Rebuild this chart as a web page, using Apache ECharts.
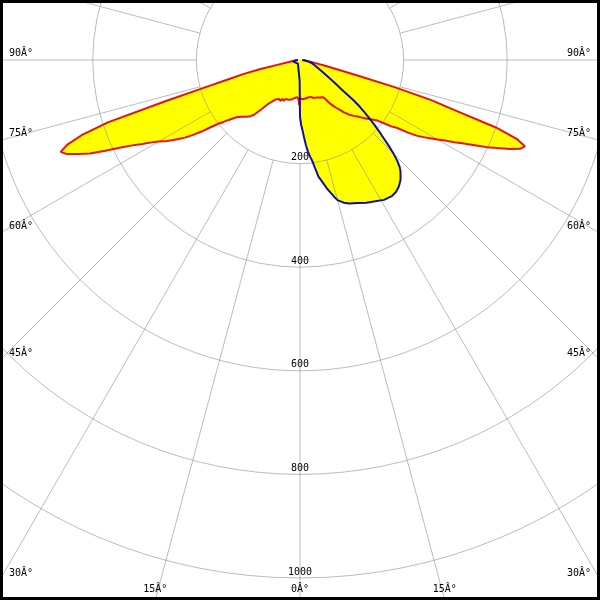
<!DOCTYPE html>
<html>
<head>
<meta charset="utf-8">
<script src="https://cdn.jsdelivr.net/npm/echarts@6/dist/echarts.min.js"></script>
<style>
html,body{margin:0;padding:0;background:#fff;}
#chart{width:600px;height:600px;}
</style>
</head>
<body>
<div id="chart"></div>
<script>
// C0-C180 plane (red), angle in degrees from nadir (negative = left side)
const redAngles = [-90,-85,-80,-78,-77,-76,-75,-74,-73,-72,-71,-70,-69,-68,-67,-66,-65,-64,-63,-62,-61,-60,-59,-58,-57,-56,-55,-54,-53,-52,-51,-50,-48,-46,-44,-42,-40,-38,-36,-34,-32,-30,-28,-26,-24,-22,-20,-18,-16,-14,-12,-10,-8,-6,-4,-2,-1,0,2,4,6,8,10,12,14,16,18,20,22,24,26,28,30,32,33,34,35,36,38,40,42,44,46,48,50,52,53,54,55,56,57,58,59,60,61,62,63,64,65,66,67,68,69,70,71,72,73,74,75,76,77,78,80,85,90];
const redValues = [4,10,22,45,80,115,140,185,272,390,446,478,495,485,465,444,415,385,363,345,328,315,305,292,280,268,252,235,215,200,190,180,165,158,152,147,138,120,105,97,90,88,85,88,82,85,80,83,80,82,78,80,74,76,72,77,87,74,71,76,73,75,72,74,72,74,76,78,80,79,80,82,83,85,90,97,104,110,120,132,142,150,158,168,178,190,203,218,228,250,268,281,293,307,321,338,355,375,398,418,440,458,465,445,400,315,265,190,110,70,50,38,22,10,4];
// C90-C270 plane (blue)
const blueAngles = [-90,-85,-80,-75,-60,-45,-30,-15,-5,-2,-1,0,1,2,3,4,5,6,7,8,9,10,12,14,15,17,19,22,25,28,31,34,36,38,40,42,43,44,45,46,47,48,49,50,51,52,53,54,55,56,58,60,62,65,70,75,80,85,90];
const blueValues = [4,8,14,12,10,8,8,8,8,10,40,110,125,135,150,165,178,188,197,212,228,236,255,272,280,288,293,298,304,309,315,317,315,310,302,290,282,270,255,238,220,205,190,175,160,146,130,110,95,86,70,58,50,40,30,24,16,10,5];
// tick labels
const radiusTicks = [200, 400, 600, 800, 1000, 1200];
const angleTicks = [-90,-75,-60,-45,-30,-15,0,15,30,45,60,75,90];

const redData = redAngles.map((a, i) => [redValues[i], a]);
const blueData = blueAngles.map((a, i) => [blueValues[i], a]);

const FONT = 'DejaVu Sans Mono';
const gridColor = 'rgba(140,140,140,0.58)';
const CX = 300, CY = 60, RMAX = 621.6, R0 = 103.6;

const chart = echarts.init(document.getElementById('chart'), null, {renderer: 'canvas'});
chart.setOption({
  animation: false,
  backgroundColor: '#ffffff',
  polar: [
    {center: [CX, CY], radius: RMAX},
    {center: [CX, CY], radius: [R0, RMAX]}
  ],
  angleAxis: [
    {polarIndex: 0, type: 'value', min: -180, max: 180, startAngle: 90, clockwise: false, show: false},
    {polarIndex: 1, type: 'value', min: 0, max: 360, interval: 15, startAngle: 270, z: 2,
     axisLine: {show: false}, axisTick: {show: false}, axisLabel: {show: false},
     splitLine: {show: true, lineStyle: {color: gridColor, width: 1}}}
  ],
  radiusAxis: [
    {polarIndex: 0, type: 'value', min: 0, max: 1200, show: false},
    {polarIndex: 1, type: 'value', min: radiusTicks[0], max: radiusTicks[radiusTicks.length - 1], interval: 200, z: 2,
     axisLine: {show: false}, axisTick: {show: false},
     axisLabel: {show: true, margin: 0, align: 'center', verticalAlign: 'bottom', color: '#000',
                 fontFamily: FONT, fontSize: 10, padding: [0, 0, 1, 0],
                 formatter: v => String(v)},
     splitLine: {show: true, lineStyle: {color: gridColor, width: 1}}}
  ],
  series: [
    {type: 'line', coordinateSystem: 'polar', polarIndex: 0, data: redData, symbol: 'none', silent: true,
     lineStyle: {opacity: 0}, areaStyle: {color: '#ffff00', opacity: 1}, z: 1},
    {type: 'line', coordinateSystem: 'polar', polarIndex: 0, data: blueData, symbol: 'none', silent: true,
     lineStyle: {opacity: 0}, areaStyle: {color: '#ffff00', opacity: 1}, z: 1},
    {type: 'line', coordinateSystem: 'polar', polarIndex: 0, data: redData, symbol: 'none', silent: true,
     lineStyle: {color: '#e41414', width: 2}, z: 3},
    {type: 'line', coordinateSystem: 'polar', polarIndex: 0, data: blueData, symbol: 'none', silent: true,
     lineStyle: {color: '#10109c', width: 2}, z: 4}
  ],
  graphic: [
    {id: 'frame', type: 'rect', z: 100, silent: true,
     shape: {x: 1.5, y: 1.5, width: 597, height: 597},
     style: {fill: null, stroke: '#000', lineWidth: 3}}
  ]
});

// angle labels where each spoke leaves the picture
const W = chart.getWidth(), H = chart.getHeight();
const c = chart.convertToPixel({seriesIndex: 0}, [0, 0]) || [CX, CY];
const els = [];
angleTicks.forEach(a => {
  const p = chart.convertToPixel({seriesIndex: 0}, [1000, a]);
  const dx = p[0] - c[0], dy = p[1] - c[1];
  const len = Math.hypot(dx, dy);
  const ux = dx / len, uy = dy / len;
  let tx = Infinity, ty = Infinity;
  if (ux < -1e-9) tx = (0 - c[0]) / ux;
  else if (ux > 1e-9) tx = (W - c[0]) / ux;
  if (uy > 1e-9) ty = (H - c[1]) / uy;
  const t = Math.min(tx, ty);
  const ex = c[0] + ux * t, ey = c[1] + uy * t;
  const txt = Math.abs(a) + 'Â°';
  let style;
  if (ty <= tx) {
    style = {x: ex, y: H - 6, align: 'center', verticalAlign: 'bottom'};
  } else if (ux < 0) {
    style = {x: 9, y: ey - 1.5, align: 'left', verticalAlign: 'bottom'};
  } else {
    style = {x: W - 9, y: ey - 1.5, align: 'right', verticalAlign: 'bottom'};
  }
  els.push({id: 'al' + a, type: 'text', z: 50, silent: true,
    style: Object.assign({text: txt, fill: '#000', font: '10px "' + FONT + '"'}, style)});
});
chart.setOption({graphic: els});
</script>
</body>
</html>
